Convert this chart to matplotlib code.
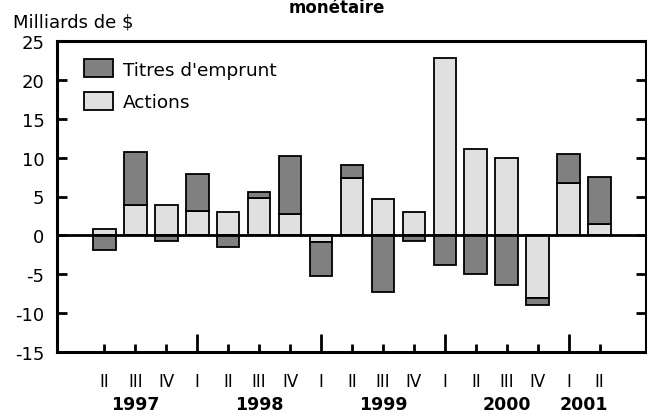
import numpy as np
import matplotlib
matplotlib.use("Agg")
import matplotlib.pyplot as plt

plt.rcParams['font.family'] = ['DejaVu Sans']
plt.rcParams['axes.unicode_minus'] = False

quarters = ['II', 'III', 'IV', 'I', 'II', 'III', 'IV', 'I', 'II', 'III', 'IV',
            'I', 'II', 'III', 'IV', 'I', 'II']
years = ['1997', '1998', '1999', '2000', '2001']
year_pos = [1, 5, 9, 13, 15.5]
actions = [0.8, 3.85, 3.9, 3.1, 2.95, 4.8, 2.8, -0.8, 7.35, 4.65, 3.0,
           22.75, 11.1, 9.9, -8.0, 6.7, 1.5]
titres = [-1.85, 6.8, -0.7, 4.8, -1.45, 0.75, 7.35, -4.4, 1.7, -7.2, -0.75,
          -3.75, -5.0, -6.3, -0.9, 3.7, 6.05]

W, H = 647, 414
fig = plt.figure(figsize=(W / 100, H / 100), dpi=100)
ax = fig.add_axes([57 / W, (H - 353.3) / H, (646 - 57) / W, (353.3 - 41.7) / H])

x = np.arange(len(quarters))
a = np.array(actions)
t = np.array(titres)
bottom_t = np.where(np.sign(a) == np.sign(t), a, 0.0)

dark = '#808080'
light = '#e0e0e0'
ax.bar(x, a, width=0.73, color=light, edgecolor='black', linewidth=1.3,
       label='Actions', zorder=2)
ax.bar(x, t, bottom=bottom_t, width=0.73, color=dark, edgecolor='black',
       linewidth=1.3, label="Titres d'emprunt", zorder=2)
ax.axhline(0, color='black', linewidth=2.0, zorder=3)

ax.set_xlim(-1.53, 17.5)
ax.set_ylim(-15, 25)
ax.set_yticks(np.arange(-15, 26, 5))
ax.tick_params(axis='y', direction='in', length=7, width=2, labelsize=13,
               pad=9, right=True, labelright=False)

ax.set_xticks(x)
ax.set_xticklabels(quarters, fontsize=12)
ax.tick_params(axis='x', direction='in', length=6, width=2, pad=14)
for i, tk in enumerate(ax.xaxis.get_major_ticks()):
    if quarters[i] == 'I':
        tk.tick1line.set_markersize(13)

for yr, p in zip(years, year_pos):
    ax.annotate(yr, xy=(p, 0), xycoords=('data', 'axes fraction'),
                xytext=(0, -37.5), textcoords='offset points',
                ha='center', va='center', fontsize=12.5, fontweight='bold')

for s in ax.spines.values():
    s.set_linewidth(2.2)

h, l = ax.get_legend_handles_labels()
ax.legend(h[::-1], l[::-1], loc='upper left', bbox_to_anchor=(0.045, 0.94),
          frameon=False, fontsize=13.3, handlelength=1.6, handleheight=1.1,
          handletextpad=0.55, labelspacing=0.72, borderpad=0, borderaxespad=0)

fig.text(13 / W, 1 - 27 / H, 'Milliards de $', fontsize=13, ha='left',
         va='baseline')
fig.text(337 / W, 1 - 13 / H, 'monétaire', fontsize=12, fontweight='bold',
         ha='center', va='baseline')

fig.savefig('out.png', dpi=100)
